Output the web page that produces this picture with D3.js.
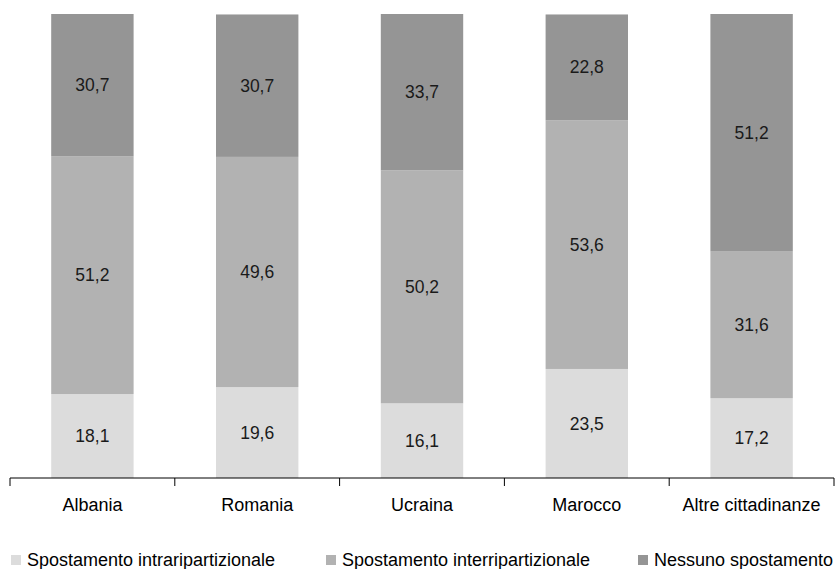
<!DOCTYPE html>
<html><head><meta charset="utf-8">
<script src="https://cdn.jsdelivr.net/npm/d3@7"></script>
<style>body{margin:0;background:#fff}svg{display:block}text{font-family:"Liberation Sans",Arial,sans-serif}</style>
</head><body><svg id="c" width="836" height="569"></svg>
<script>
const categories = ["Albania","Romania","Ucraina","Marocco","Altre cittadinanze"];
const intra = [18.1,19.6,16.1,23.5,17.2];
const inter = [51.2,49.6,50.2,53.6,31.6];
const nessuno = [30.7,30.7,33.7,22.8,51.2];
const seriesNames = ["Spostamento intraripartizionale","Spostamento interripartizionale","Nessuno spostamento"];
const colors = ["#dcdcdc","#b2b2b2","#959595"];

const svg = d3.select("#c");
const x = d3.scaleBand().domain(categories).range([10,834]).paddingInner(0.5).paddingOuter(0.25);
const y = d3.scaleLinear().domain([0,100]).range([478,14]);

const rows = categories.map((c,i)=>({cat:c, s0:intra[i], s1:inter[i], s2:nessuno[i]}));
const stack = d3.stack().keys(["s0","s1","s2"])(rows);

stack.forEach((layer,li)=>{
  const g = svg.append("g");
  g.selectAll("rect").data(layer).join("rect")
    .attr("x",d=>x(d.data.cat)).attr("width",x.bandwidth())
    .attr("y",d=>y(d[1])).attr("height",d=>y(d[0])-y(d[1]))
    .attr("fill",colors[li]);
  g.selectAll("text").data(layer).join("text")
    .attr("x",d=>x(d.data.cat)+x.bandwidth()/2)
    .attr("y",d=>(y(d[0])+y(d[1]))/2)
    .attr("dy","0.35em").attr("text-anchor","middle")
    .attr("font-size",17.5).attr("fill","#1a1a1a")
    .text(d=>d3.format(".1f")(d[1]-d[0]).replace(".",","));
});

// axis
const xb = d3.scaleBand().domain(categories).range([10,834]);
const ax = svg.append("g").attr("transform","translate(0,478)");
ax.append("line").attr("x1",10).attr("x2",834).attr("stroke","#000");
const edges = categories.map(c=>xb(c)).concat([834]);
ax.selectAll("line.t").data(edges).join("line").attr("class","t")
  .attr("x1",d=>d).attr("x2",d=>d).attr("y1",0).attr("y2",8).attr("stroke","#000");
ax.selectAll("text").data(categories).join("text")
  .attr("x",d=>xb(d)+xb.bandwidth()/2).attr("y",33)
  .attr("text-anchor","middle").attr("font-size",18).attr("fill","#000").text(d=>d);

// legend
const lx = [11,326,638];
const lg = svg.append("g");
seriesNames.forEach((n,i)=>{
  lg.append("rect").attr("x",lx[i]).attr("y",555).attr("width",10).attr("height",10).attr("fill",colors[i]);
  lg.append("text").attr("x",lx[i]+16).attr("y",566).attr("font-size",18).attr("fill","#000").text(n);
});
</script></body></html>
